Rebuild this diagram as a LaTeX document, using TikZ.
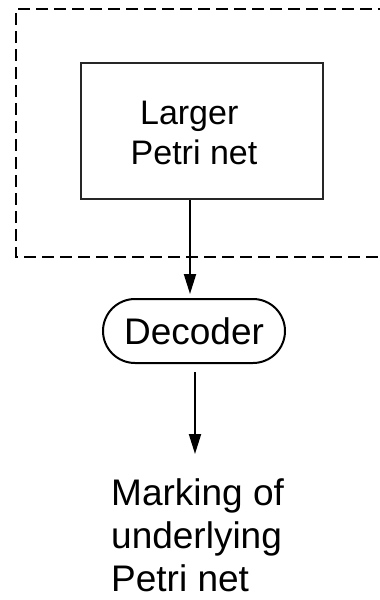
\documentclass[tikz,border=0pt]{standalone}
\usepackage{fontspec}
\setmainfont{Liberation Sans}
\usetikzlibrary{arrows.meta}
\tikzset{
  frame/.style={draw=black, line width=2pt, dash pattern=on 12pt off 6pt},
  netbox/.style={draw=black!85, line width=1.2pt, minimum width=242pt, minimum height=136pt, inner sep=0pt},
  decbox/.style={draw=black, line width=2pt, rounded corners=32pt, minimum width=182pt, minimum height=64pt, inner sep=0pt, font=\fontsize{37}{43}\selectfont},
  flow/.style={line width=2pt, -{Triangle[length=20pt,width=12pt]}},
}
\begin{document}
\begin{tikzpicture}[x=1pt,y=1pt]
\useasboundingbox (0,0) rectangle (380,-600);
\fill[white] (0,0) rectangle (380,-600);
% open dashed frame, running off the right edge
\begin{scope}
  \clip (0,0) rectangle (380,-600);
  \coordinate (ftr) at (390,-9);
  \coordinate (ftl) at (16,-9);
  \coordinate (fbl) at (16,-257);
  \coordinate (fbr) at (390,-257);
  \draw[frame] (ftr) -- (ftl) -- (fbl) -- (fbr);
\end{scope}
% larger net
\node[netbox] (net) at (202,-131) {};
\node[anchor=north, align=center, inner sep=0pt, font=\fontsize{34}{40}\selectfont] (nettxt) at (194,-100.5) {Larger\hspace*{0.28em}\\Petri net};
% decoder
\node[decbox] (dec) at (194,-331) {Decoder};
% output label
\node[anchor=north west, align=left, inner sep=0pt, font=\fontsize{37}{43}\selectfont] (out) at (111,-478) {Marking of\\underlying\\Petri net};
% connectors
\coordinate (a1) at ([xshift=-12pt]net.south);
\draw[flow] (a1) -- ([yshift=4pt]a1 |- dec.north);
\coordinate (a2) at ([xshift=1pt,yshift=-8pt]dec.south);
\draw[flow] (a2) -- ([yshift=24pt]a2 |- out.north);
\end{tikzpicture}
\end{document}
